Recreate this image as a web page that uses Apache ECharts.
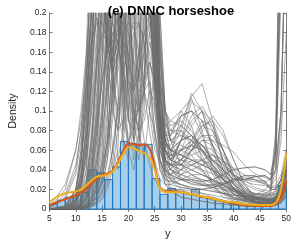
<!DOCTYPE html>
<html>
<head>
<meta charset="utf-8">
<script src="https://cdn.jsdelivr.net/npm/echarts@6/dist/echarts.min.js"></script>
<style>
html,body{margin:0;padding:0;background:#fff;}
#chart{width:294px;height:244px;}
</style>
</head>
<body>
<div id="chart"></div>
<script>
// ---------- data ----------
var titleText = "(e) DNNC horseshoe";
var xName = "y";
var yName = "Density";

// histogram: bins of width 1.5 starting at 5
var binStart = 5;
var binWidth = 1.5;
var binDensity = [0.005,0.009,0.012,0.014,0.017,0.040,0.037,0.030,0.043,0.069,
                  0.067,0.066,0.066,0.031,0.015,0.021,0.018,0.016,0.020,0.012,
                  0.011,0.009,0.007,0.005,0.004,0.003,0.003,0.003,0.005,0.024];

// red density curve
var redX = [5,6,7,8,9,10,11,12,13,14,15,16,17,18,19,20,21,22,23,24,24.5,25,25.5,26,27,28,30,32,35,38,40,42,45,47,48,48.5,49,49.5,50];
var redY = [0.004,0.006,0.008,0.010,0.012,0.014,0.017,0.021,0.026,0.031,0.035,0.036,0.039,0.048,0.059,0.067,0.066,0.065,0.066,0.062,0.055,0.044,0.031,0.022,0.018,0.018,0.017,0.015,0.012,0.008,0.006,0.004,0.003,0.003,0.005,0.008,0.012,0.018,0.029];

// yellow density curve
var yelX = [5,6,7,8,9,10,11,12,13,14,15,16,17,18,19,20,21,22,23,24,24.5,25,25.5,26,27,28,30,32,35,38,40,42,45,47,48,48.5,49,49.5,50];
var yelY = [0.007,0.011,0.014,0.016,0.017,0.018,0.020,0.024,0.029,0.033,0.034,0.035,0.038,0.046,0.056,0.063,0.062,0.059,0.057,0.053,0.048,0.040,0.029,0.021,0.017,0.017,0.017,0.015,0.012,0.008,0.007,0.005,0.004,0.004,0.006,0.011,0.020,0.035,0.057];

// grey posterior draws on a shared grid
var greyX = [5,8,10,11,12,13,14,15,16,17,18,19,20,21,22,23,24,25,26,27,28,30,32,34,36,38,40,42,44,46,47,48,49,50];
var greyY = [
 [0,.003,.02,.05,.11,.2,.27,.22,.16,.19,.26,.3,.32,.32,.32,.3,.24,.14,.09,.085,.09, .1,.085,.05,.025,.012,.008,.006,.006,.005,.005,.006,.01,.02],
 [0,.001,.008,.025,.06,.13,.22,.25,.19,.15,.18,.25,.3,.32,.32,.3,.26,.17,.08,.055,.06, .08,.115,.128,.09,.045,.02,.01,.007,.006,.006,.01,.02,.04],
 [.001,.02,.06,.1,.16,.24,.28,.24,.19,.17,.2,.26,.3,.3,.28,.22,.14,.08,.04,.025,.02, .018,.015,.012,.01,.008,.005,.004,.003,.003,.003,.004,.008,.015],
 [0,.002,.015,.05,.1,.17,.195,.17,.14,.12,.16,.24,.3,.32,.31,.28,.22,.13,.05,.025,.018, .012,.01,.008,.006,.005,.004,.003,.003,.003,.003,.005,.012,.03],
 [0,.001,.01,.035,.08,.17,.24,.23,.18,.15,.17,.22,.28,.31,.32,.31,.27,.2,.09,.05,.045, .045,.06,.07,.07,.065,.058,.045,.036,.032,.03,.055,.26,.6],
 [0,.002,.018,.05,.11,.2,.26,.23,.17,.14,.16,.22,.28,.3,.3,.28,.22,.13,.075,.065,.065, .085,.118,.1,.065,.035,.015,.008,.006,.006,.006,.008,.015,.03],
 [.001,.012,.04,.08,.15,.24,.28,.25,.18,.15,.17,.24,.29,.3,.29,.26,.2,.13,.085,.075,.08, .095,.1,.09,.065,.04,.02,.011,.008,.008,.008,.01,.015,.025],
 [0,.003,.02,.06,.13,.22,.27,.24,.17,.14,.16,.21,.27,.3,.3,.28,.23,.15,.07,.05,.045, .07,.11,.1,.06,.03,.015,.009,.01,.015,.02,.07,.3,.6],
 [0,0,.002,.005,.01,.03,.07,.13,.2,.27,.3,.32,.32,.32,.32,.31,.28,.2,.1,.075,.075, .1,.113,.08,.04,.018,.008,.005,.004,.004,.005,.008,.015,.03],
 [0,0,.001,.002,.005,.012,.03,.07,.13,.2,.27,.31,.32,.32,.32,.31,.29,.24,.12,.06,.05, .07,.075,.065,.05,.04,.03,.03,.033,.034,.03,.04,.1,.3],
 [0,.001,.005,.012,.03,.08,.15,.22,.27,.3,.31,.31,.31,.3,.3,.28,.24,.16,.07,.04,.04, .06,.055,.04,.025,.015,.01,.009,.009,.012,.015,.06,.35,.7],
 [0,.001,.01,.025,.05,.11,.18,.24,.28,.3,.31,.31,.31,.3,.29,.27,.22,.14,.08,.065,.06, .055,.05,.045,.04,.03,.02,.012,.007,.005,.004,.004,.006,.012],
 [0,0,.003,.008,.02,.05,.1,.17,.23,.28,.3,.31,.31,.31,.3,.29,.27,.2,.08,.04,.032, .03,.03,.028,.03,.035,.04,.042,.043,.04,.035,.06,.28,.6],
 [0,0,.002,.006,.015,.04,.08,.15,.22,.27,.3,.31,.32,.32,.31,.3,.28,.23,.13,.1,.09, .085,.075,.06,.045,.03,.02,.014,.011,.01,.01,.012,.02,.035],
 [0,.002,.012,.035,.07,.13,.2,.26,.29,.3,.3,.3,.3,.3,.29,.27,.21,.12,.05,.035,.035, .05,.07,.085,.08,.06,.035,.018,.011,.009,.008,.01,.02,.04],
 [0,0,0,.001,.002,.005,.012,.03,.06,.12,.2,.27,.31,.32,.32,.32,.3,.26,.13,.05,.03, .04,.045,.05,.055,.05,.04,.03,.022,.019,.018,.04,.22,.55],
 [0,0,.001,.003,.008,.02,.05,.1,.17,.24,.29,.31,.32,.32,.31,.3,.27,.2,.08,.035,.025, .022,.02,.02,.022,.025,.03,.034,.034,.028,.02,.02,.03,.05],
 [0,.001,.006,.018,.04,.1,.17,.24,.28,.3,.31,.31,.31,.3,.29,.26,.21,.13,.065,.05,.055, .095,.1,.09,.065,.04,.02,.011,.008,.008,.008,.01,.015,.025],
 [0,0,.001,.004,.01,.025,.055,.11,.18,.25,.29,.31,.32,.32,.31,.3,.28,.24,.1,.035,.022, .018,.015,.012,.01,.008,.005,.004,.003,.003,.003,.004,.008,.015],
 [0,.001,.004,.012,.03,.07,.14,.21,.27,.3,.31,.31,.31,.31,.3,.28,.24,.17,.07,.03,.02, .012,.01,.008,.006,.005,.004,.003,.003,.003,.003,.005,.012,.03],
 [0,.002,.012,.035,.08,.16,.24,.29,.3,.3,.28,.22,.15,.1,.08,.09,.12,.11,.08,.07,.075, .085,.075,.06,.045,.03,.02,.014,.011,.01,.01,.012,.02,.035],
 [0,.001,.008,.025,.06,.13,.21,.27,.3,.29,.25,.18,.12,.09,.1,.14,.18,.16,.1,.065,.06, .07,.075,.065,.05,.04,.03,.03,.033,.034,.03,.04,.1,.3],
 [.001,.01,.035,.07,.12,.17,.19,.19,.17,.14,.1,.07,.06,.07,.09,.12,.13,.1,.06,.045,.045, .04,.06,.08,.095,.08,.05,.025,.012,.008,.007,.008,.012,.02],
 [0,.003,.02,.05,.1,.18,.25,.28,.28,.26,.22,.17,.13,.12,.14,.18,.2,.15,.08,.05,.045, .07,.095,.105,.085,.05,.025,.012,.008,.006,.006,.008,.014,.028],
 [0,0,.003,.01,.025,.06,.12,.2,.26,.29,.29,.26,.2,.15,.14,.16,.2,.18,.1,.06,.05, .06,.085,.1,.09,.06,.03,.015,.008,.006,.006,.008,.014,.025],
 [0,.001,.01,.03,.07,.14,.22,.27,.29,.28,.24,.19,.15,.13,.12,.13,.15,.13,.08,.06,.055, .055,.05,.045,.04,.03,.02,.012,.007,.005,.004,.004,.006,.012],
 [0,0,0,0,.001,.002,.005,.01,.02,.04,.08,.15,.24,.3,.32,.32,.3,.26,.14,.07,.05, .07,.075,.065,.05,.04,.03,.03,.033,.034,.03,.04,.1,.3],
 [0,0,0,.001,.002,.004,.008,.015,.03,.06,.11,.19,.26,.3,.31,.31,.29,.24,.12,.06,.04, .03,.03,.028,.03,.035,.04,.042,.043,.04,.035,.06,.28,.6],
 [0,0,.001,.002,.005,.01,.02,.04,.07,.11,.16,.22,.27,.3,.31,.3,.28,.22,.1,.045,.035, .022,.02,.02,.022,.025,.03,.034,.034,.028,.02,.02,.03,.05],
 [0,0,0,0,.001,.003,.006,.012,.025,.05,.1,.17,.25,.3,.31,.31,.29,.22,.09,.04,.03, .025,.022,.02,.018,.016,.014,.013,.014,.016,.015,.016,.025,.045],
 [0,0,.001,.003,.006,.012,.025,.045,.08,.13,.19,.25,.29,.31,.31,.3,.27,.21,.11,.08,.075, .095,.1,.075,.045,.022,.01,.006,.005,.005,.005,.007,.013,.026],
 [0,0,0,.001,.003,.006,.012,.025,.05,.09,.15,.22,.28,.31,.31,.3,.26,.18,.08,.05,.045, .05,.048,.04,.03,.02,.015,.012,.014,.02,.025,.08,.4,.7],
 [.002,.025,.06,.09,.14,.2,.25,.27,.26,.24,.25,.27,.29,.3,.3,.28,.23,.14,.07,.05,.045, .045,.06,.075,.075,.06,.04,.022,.013,.01,.009,.01,.018,.035],
 [.001,.015,.045,.08,.13,.2,.26,.28,.25,.2,.19,.22,.27,.3,.3,.29,.25,.17,.09,.07,.07, .075,.07,.055,.035,.02,.012,.008,.007,.006,.006,.007,.012,.022],
 [0,0,.002,.01,.04,.12,.3,.42,.3,.12,.05,.08,.28,.4,.42,.35,.22,.1,.05,.035,.03, .025,.02,.016,.012,.009,.006,.004,.004,.004,.004,.005,.009,.018],
 [0,.001,.006,.03,.09,.22,.38,.3,.1,.04,.06,.18,.35,.42,.38,.3,.26,.18,.09,.06,.05, .06,.065,.06,.05,.042,.035,.03,.028,.026,.024,.03,.07,.18],
 [0,0,0,.002,.006,.015,.04,.09,.18,.32,.42,.25,.09,.07,.22,.38,.35,.22,.1,.07,.06, .055,.065,.075,.07,.055,.035,.02,.012,.009,.008,.01,.018,.035],
 [0,0,.001,.005,.015,.04,.1,.22,.38,.4,.2,.07,.05,.15,.34,.4,.3,.17,.07,.04,.035, .045,.045,.04,.036,.03,.022,.014,.008,.006,.005,.005,.007,.014],
 [0,.001,.008,.04,.12,.28,.42,.32,.14,.06,.04,.06,.14,.28,.4,.42,.32,.18,.08,.05,.045, .035,.04,.045,.05,.048,.042,.035,.03,.028,.03,.05,.24,.55],
 [0,0,0,0,.001,.003,.008,.02,.05,.12,.26,.4,.42,.24,.1,.12,.3,.25,.12,.07,.06, .05,.065,.085,.09,.075,.05,.026,.013,.009,.008,.009,.014,.025],
 [0,0,.001,.004,.012,.035,.09,.2,.35,.42,.3,.13,.07,.06,.12,.3,.36,.28,.15,.1,.085, .09,.08,.06,.04,.025,.015,.01,.008,.007,.007,.008,.013,.024],
 [0,0,0,.001,.004,.01,.025,.06,.14,.28,.4,.42,.26,.12,.07,.1,.3,.3,.16,.08,.06, .03,.025,.024,.025,.027,.03,.032,.03,.025,.02,.02,.03,.05],
 [0,.002,.015,.06,.16,.32,.4,.3,.16,.1,.08,.09,.14,.25,.38,.42,.35,.24,.12,.07,.055, .05,.045,.038,.028,.018,.012,.01,.01,.013,.016,.07,.38,.7],
 [0,0,.001,.003,.01,.025,.06,.14,.28,.4,.32,.15,.09,.16,.35,.4,.32,.2,.09,.05,.04, .032,.028,.025,.022,.02,.018,.016,.015,.014,.013,.015,.022,.04],
 [0,0,0,.001,.003,.008,.02,.05,.1,.2,.34,.42,.36,.2,.13,.2,.36,.3,.17,.09,.07, .08,.07,.058,.045,.032,.022,.015,.012,.011,.011,.013,.022,.04],
 [0,.001,.01,.045,.13,.27,.36,.3,.2,.16,.2,.3,.38,.3,.18,.12,.1,.08,.05,.035,.03, .02,.015,.012,.009,.007,.005,.004,.003,.003,.003,.005,.01,.02],
 [0,0,.002,.008,.025,.07,.16,.3,.4,.35,.2,.1,.07,.08,.14,.26,.38,.35,.2,.1,.07, .045,.035,.028,.022,.016,.011,.008,.006,.005,.005,.006,.01,.02],
 [0,0,0,.001,.002,.005,.012,.03,.07,.15,.28,.4,.42,.4,.36,.3,.22,.14,.08,.06,.055, .06,.065,.06,.05,.038,.026,.017,.012,.01,.01,.012,.02,.04],
 [0,.001,.005,.02,.06,.15,.3,.4,.3,.14,.08,.14,.32,.4,.38,.3,.24,.2,.1,.085,.08, .08,.065,.05,.038,.027,.018,.011,.007,.005,.005,.005,.008,.015],
 [0,0,.001,.006,.02,.06,.14,.26,.36,.38,.24,.12,.2,.38,.42,.36,.28,.14,.06,.04,.035, .03,.026,.024,.024,.026,.028,.03,.03,.027,.022,.022,.03,.05],
 [0,0,0,.001,.003,.008,.02,.05,.12,.25,.38,.28,.1,.05,.08,.25,.38,.3,.14,.07,.05, .045,.04,.035,.03,.024,.018,.013,.01,.009,.009,.012,.025,.05],
 [0,0,.001,.004,.012,.03,.07,.15,.28,.38,.26,.1,.06,.1,.28,.38,.33,.2,.09,.05,.04, .05,.06,.07,.065,.05,.032,.018,.011,.008,.008,.01,.018,.035],
 [0,0,0,0,.002,.005,.012,.03,.07,.15,.3,.4,.2,.07,.05,.12,.32,.3,.16,.08,.06, .07,.09,.1,.08,.05,.026,.013,.008,.006,.006,.008,.014,.028],
 [0,.001,.005,.02,.06,.15,.3,.38,.26,.12,.16,.35,.26,.09,.06,.14,.34,.28,.12,.06,.045, .04,.035,.03,.028,.025,.02,.016,.013,.012,.012,.02,.09,.35],
 [0,0,.001,.003,.01,.03,.08,.18,.32,.4,.3,.14,.1,.22,.38,.26,.1,.06,.05,.04,.035, .03,.028,.025,.02,.016,.012,.009,.007,.006,.006,.007,.012,.024],
 [0,0,0,.001,.004,.01,.03,.08,.18,.32,.4,.28,.12,.07,.14,.3,.36,.26,.12,.07,.06, .06,.07,.065,.055,.045,.035,.028,.025,.024,.022,.024,.035,.06],
 [0,.001,.008,.03,.09,.2,.33,.35,.22,.14,.24,.36,.36,.2,.08,.05,.1,.14,.1,.07,.06, .055,.05,.045,.04,.034,.027,.02,.016,.014,.013,.014,.022,.04],
 [0,0,.002,.008,.025,.07,.15,.26,.34,.26,.12,.08,.18,.36,.4,.3,.18,.12,.08,.06,.05, .045,.055,.06,.055,.045,.035,.026,.02,.017,.016,.018,.03,.055],
 [0,0,0,.001,.002,.006,.015,.04,.09,.2,.34,.36,.22,.1,.08,.2,.36,.34,.2,.1,.07, .06,.07,.09,.085,.06,.035,.018,.01,.008,.007,.008,.013,.025],
 [0,0,.001,.005,.015,.045,.11,.22,.34,.38,.26,.12,.06,.04,.07,.18,.32,.3,.17,.09,.07, .065,.06,.05,.04,.03,.02,.014,.01,.008,.008,.009,.015,.03],
 [0,.001,.006,.025,.07,.17,.3,.36,.28,.16,.22,.36,.26,.12,.16,.34,.32,.2,.09,.05,.04, .035,.03,.026,.024,.022,.02,.018,.016,.015,.014,.016,.026,.05],
 [0,0,0,.002,.006,.015,.04,.1,.2,.33,.4,.32,.16,.08,.16,.34,.4,.32,.18,.1,.08, .075,.07,.06,.048,.036,.025,.017,.012,.01,.01,.012,.02,.038],
 [0,0,.001,.003,.008,.02,.045,.08,.12,.16,.185,.19,.18,.15,.11,.07,.045,.03,.022,.02,.02, .02,.018,.016,.014,.012,.01,.008,.007,.006,.006,.007,.012,.024],
 [0,0,0,.001,.003,.008,.02,.04,.07,.11,.15,.18,.19,.185,.16,.12,.08,.05,.03,.025,.025, .03,.035,.035,.03,.024,.018,.013,.01,.009,.009,.011,.02,.04],
 [0,.001,.004,.01,.025,.05,.09,.13,.16,.18,.17,.14,.12,.13,.16,.18,.16,.11,.06,.04,.035, .04,.05,.05,.042,.032,.022,.015,.011,.01,.01,.012,.02,.038],
 [0,0,0,0,.001,.003,.008,.018,.035,.06,.1,.14,.17,.19,.19,.17,.13,.08,.045,.03,.028, .035,.045,.05,.045,.035,.025,.017,.012,.01,.01,.012,.022,.045],
 [0,.001,.006,.02,.05,.1,.15,.18,.17,.13,.1,.11,.15,.18,.19,.17,.12,.07,.04,.03,.028, .025,.022,.02,.018,.016,.014,.012,.011,.01,.01,.011,.018,.035],
 [0,0,.001,.004,.01,.025,.05,.09,.14,.18,.19,.17,.13,.1,.1,.13,.17,.15,.09,.05,.04, .035,.032,.03,.026,.021,.016,.012,.009,.008,.008,.009,.015,.03],
 [0,0,0,.001,.002,.006,.015,.03,.06,.1,.14,.17,.16,.12,.1,.12,.15,.13,.08,.05,.045, .05,.06,.065,.06,.048,.034,.022,.015,.012,.011,.013,.022,.045],
 [0,0,.002,.006,.016,.04,.08,.13,.17,.19,.17,.13,.09,.08,.11,.16,.19,.17,.1,.06,.05, .045,.04,.035,.03,.025,.019,.014,.01,.009,.009,.01,.016,.03]
];

var xMin = 5, xMax = 50, xStep = 5;
var yMin = 0, yMax = 0.2, yStep = 0.02;

// ---------- chart ----------
var FONT = "'Liberation Sans', Arial, Helvetica, sans-serif";
var TXT = '#262626';
var AX = '#7a7a7a';

var chart = echarts.init(document.getElementById('chart'), null, {renderer: 'canvas'});

function zip(xs, ys) { return xs.map(function (x, i) { return [x, ys[i]]; }); }

var series = [];
greyY.forEach(function (ys) {
  series.push({
    type: 'line', data: zip(greyX, ys), symbol: 'none', smooth: false,
    silent: true, clip: true, animation: false,
    lineStyle: {color: 'rgba(110,110,110,0.8)', width: 0.7}
  });
});

var histData = binDensity.map(function (d, i) {
  return [binStart + i * binWidth, binStart + (i + 1) * binWidth, d];
});
series.push({
  type: 'custom', data: histData, silent: true, animation: false,
  encode: {x: [0, 1], y: 2},
  renderItem: function (params, api) {
    var p0 = api.coord([api.value(0), 0]);
    var p1 = api.coord([api.value(1), api.value(2)]);
    return {
      type: 'rect',
      shape: {x: p0[0], y: p1[1], width: p1[0] - p0[0], height: p0[1] - p1[1]},
      style: {fill: 'rgba(0,114,189,0.35)', stroke: '#1a78c2', lineWidth: 1}
    };
  }
});

series.push({
  type: 'line', data: zip(redX, redY), symbol: 'none', smooth: 0.3, silent: true, animation: false,
  lineStyle: {color: '#D95319', width: 2}
});
series.push({
  type: 'line', data: zip(yelX, yelY), symbol: 'none', smooth: 0.3, silent: true, animation: false,
  lineStyle: {color: '#EDB120', width: 2}
});

function baseAxis(extra) {
  var a = {
    type: 'value',
    axisLine: {show: true, lineStyle: {color: AX, width: 1}},
    axisTick: {show: true, inside: true, length: 3, lineStyle: {color: AX}},
    splitLine: {show: false},
    axisLabel: {show: false}
  };
  for (var k in extra) a[k] = extra[k];
  return a;
}

var option = {
  animation: false,
  backgroundColor: '#fff',
  title: {
    text: titleText, left: 166, top: 0, textAlign: 'center',
    textStyle: {fontFamily: FONT, fontSize: 13, fontWeight: 'bold', color: '#000'}
  },
  grid: {left: 31.5, right: 5.5, top: 13, bottom: 27.3, containLabel: false},
  xAxis: [
    baseAxis({min: xMin, max: xMax, interval: xStep, position: 'bottom',
      axisLabel: {show: true, fontFamily: FONT, fontSize: 8.5, color: TXT, margin: 5},
      name: xName, nameLocation: 'middle', nameGap: 19,
      nameTextStyle: {fontFamily: FONT, fontSize: 11, color: TXT}}),
    baseAxis({min: xMin, max: xMax, interval: xStep, position: 'top'})
  ],
  yAxis: [
    baseAxis({min: yMin, max: yMax, interval: yStep, position: 'left',
      axisLabel: {show: true, fontFamily: FONT, fontSize: 8.5, color: TXT, margin: 3},
      name: yName, nameLocation: 'middle', nameGap: 26,
      nameTextStyle: {fontFamily: FONT, fontSize: 10.5, color: TXT}}),
    baseAxis({min: yMin, max: yMax, interval: yStep, position: 'right'})
  ],
  series: series
};
chart.setOption(option);
</script>
</body>
</html>
